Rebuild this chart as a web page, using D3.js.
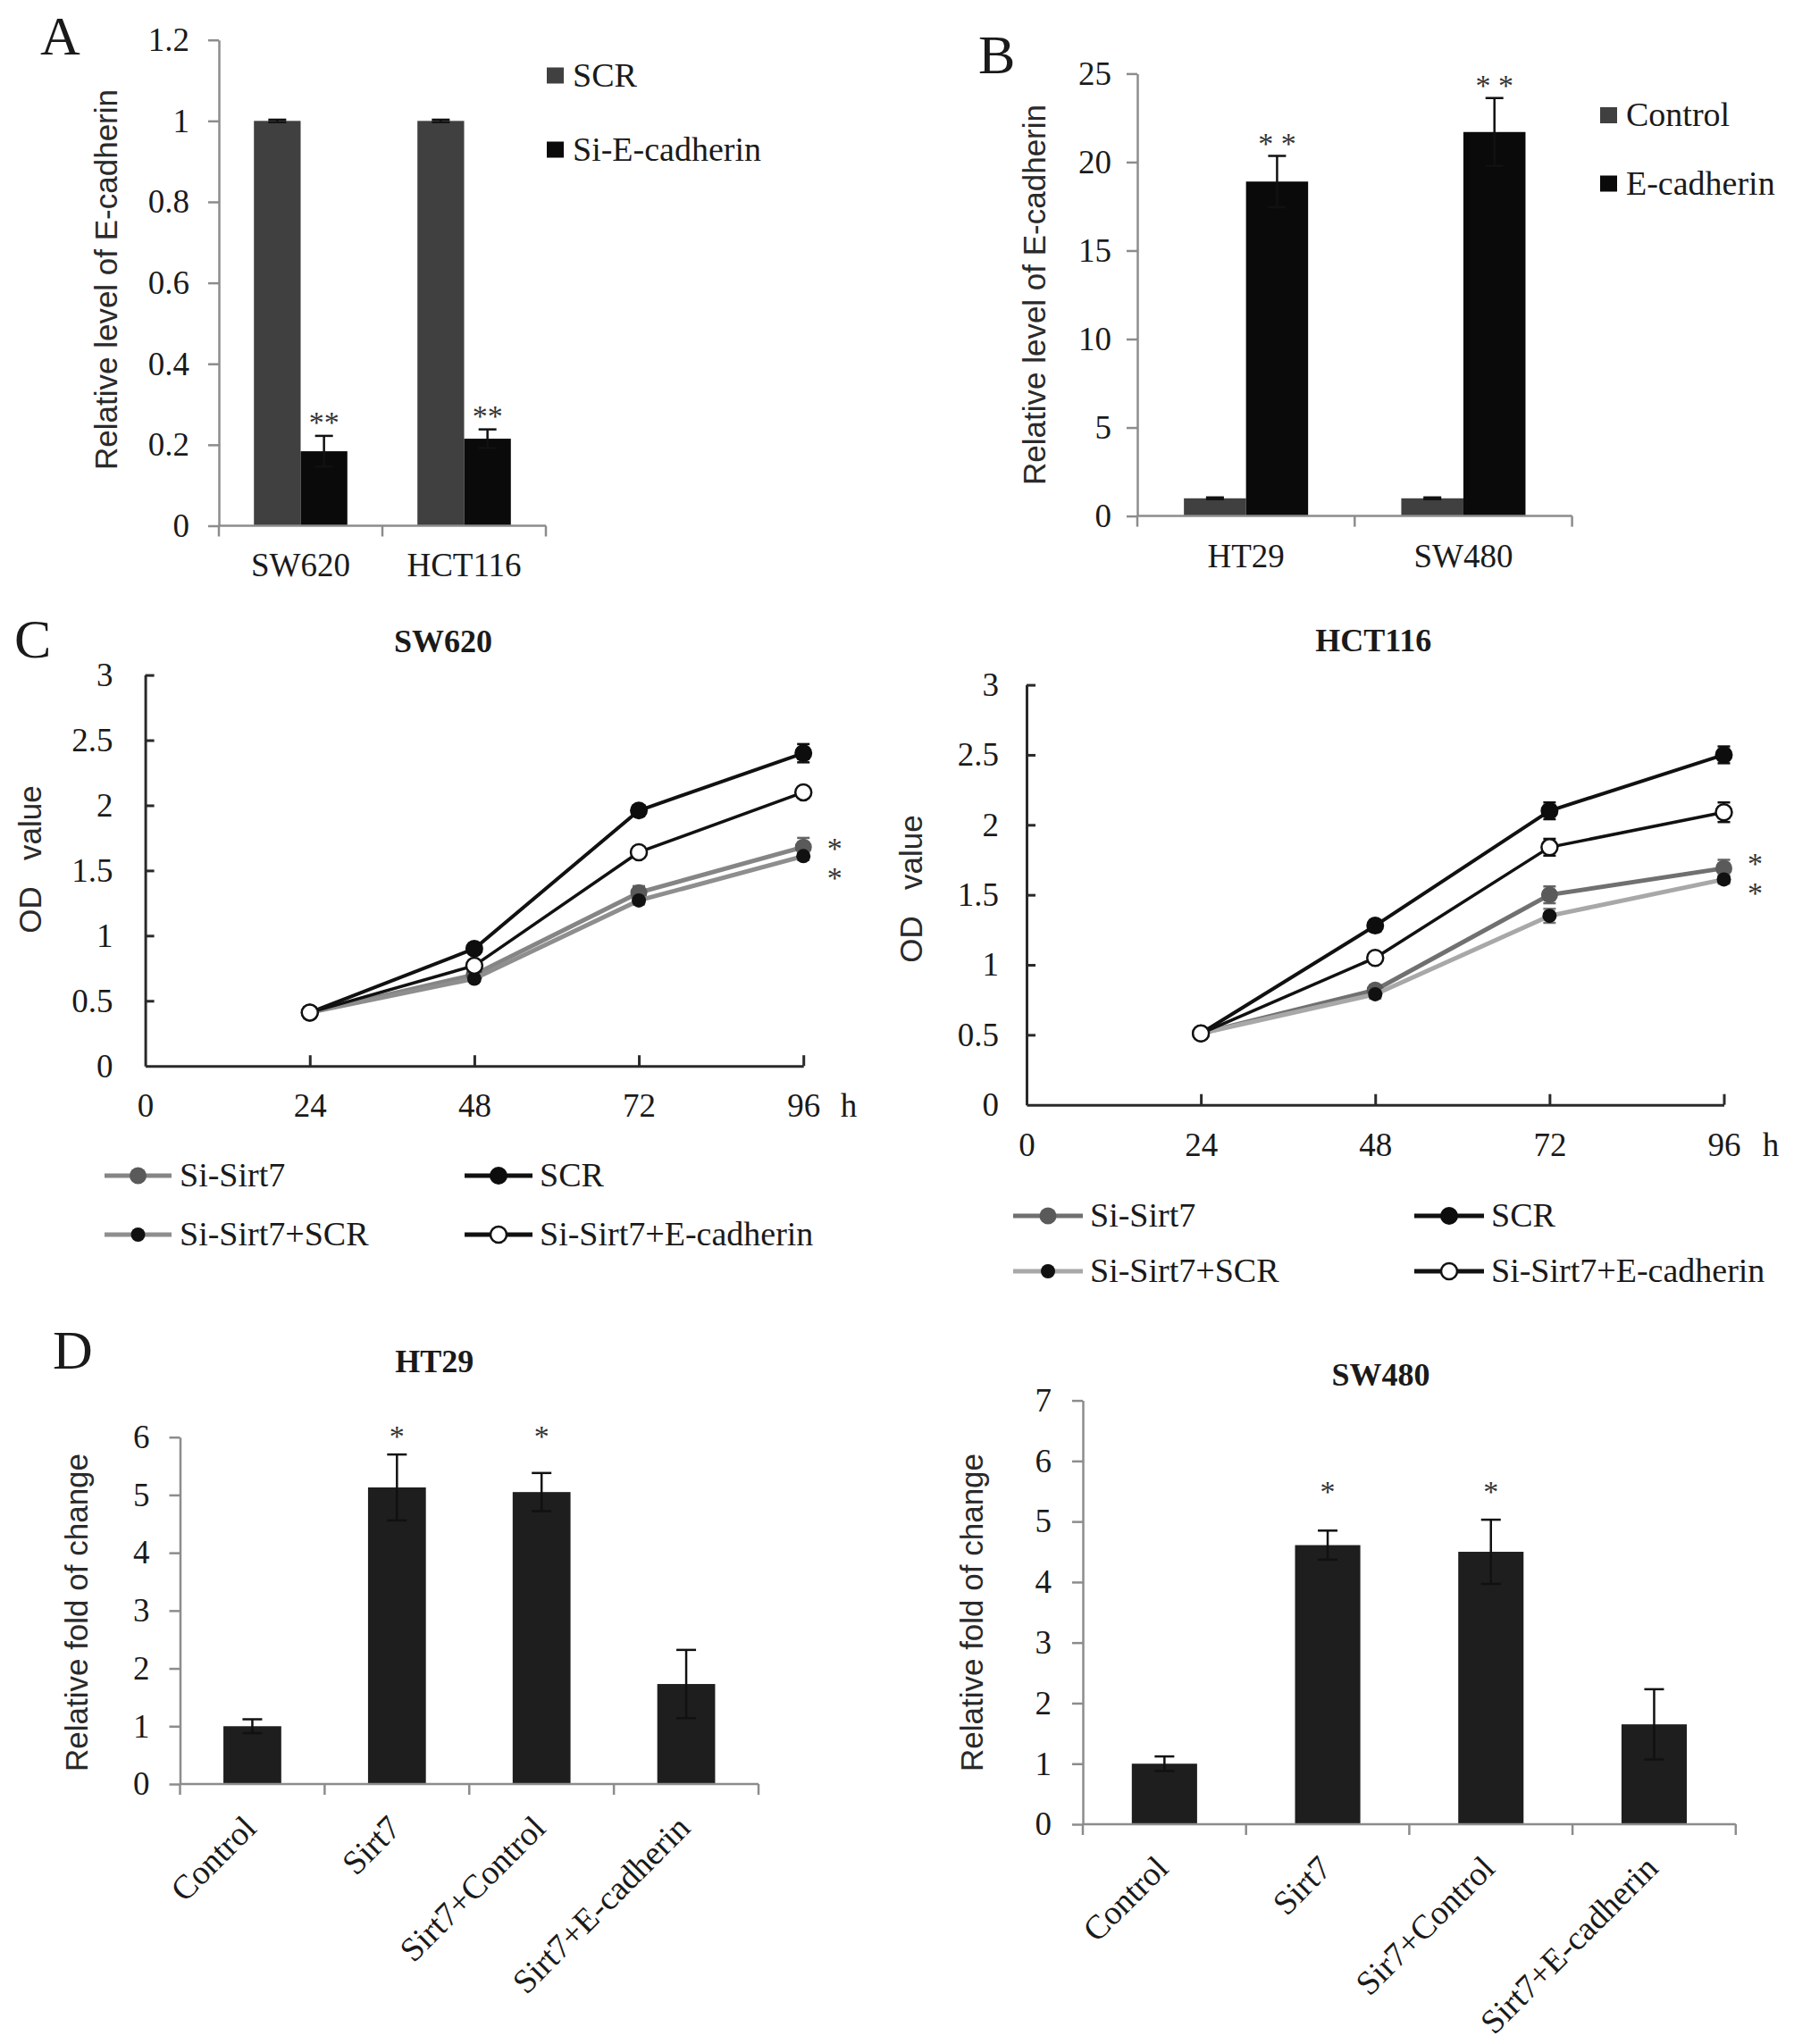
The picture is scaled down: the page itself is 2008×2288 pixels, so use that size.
<!DOCTYPE html>
<html>
<head>
<meta charset="utf-8">
<script src="https://cdn.jsdelivr.net/npm/d3@7"></script>
<style>
  body { margin: 0; background: #fff; }
  svg { display: block; }
</style>
</head>
<body>
<script>
// ---------- data ----------
// A: knock-down of E-cadherin
const aCats = ["SW620", "HCT116"];
const aSeries = ["SCR", "Si-E-cadherin"];
const aSCR = [1, 1];
const aSCRErr = [0.003, 0.003];
const aSiE = [0.184, 0.215];
const aSiEErr = [0.038, 0.023];
const aStars = ["**", "**"];
const aYTicks = [0, 0.2, 0.4, 0.6, 0.8, 1, 1.2];

// B: over-expression of E-cadherin
const bCats = ["HT29", "SW480"];
const bSeries = ["Control", "E-cadherin"];
const bControl = [1, 1];
const bControlErr = [0.05, 0.05];
const bEcad = [18.9, 21.7];
const bEcadErr = [1.45, 1.92];
const bStars = ["* *", "* *"];
const bYTicks = [0, 5, 10, 15, 20, 25];

// C: OD value over time
const hours = [24, 48, 72, 96];
const cXTicks = [0, 24, 48, 72, 96];
const cYTicks = [0, 0.5, 1, 1.5, 2, 2.5, 3];
const cSeries = ["Si-Sirt7", "SCR", "Si-Sirt7+SCR", "Si-Sirt7+E-cadherin"];

const sw620SiSirt7 = [0.41, 0.70, 1.33, 1.68];
const sw620SiSirt7Err = [0.01, 0.03, 0.05, 0.07];
const sw620SCR = [0.41, 0.90, 1.96, 2.40];
const sw620SCRErr = [0.01, 0.03, 0.04, 0.07];
const sw620SiSCR = [0.41, 0.67, 1.27, 1.61];
const sw620SiSCRErr = [0.01, 0.02, 0.03, 0.03];
const sw620SiEcad = [0.41, 0.77, 1.64, 2.10];
const sw620SiEcadErr = [0.01, 0.02, 0.02, 0.03];
const sw620StarLevels = [1.70, 1.475];

const hctSiSirt7 = [0.51, 0.82, 1.50, 1.69];
const hctSiSirt7Err = [0.01, 0.03, 0.06, 0.06];
const hctSCR = [0.51, 1.28, 2.10, 2.50];
const hctSCRErr = [0.01, 0.04, 0.06, 0.06];
const hctSiSCR = [0.51, 0.79, 1.35, 1.61];
const hctSiSCRErr = [0.01, 0.03, 0.05, 0.03];
const hctSiEcad = [0.51, 1.05, 1.84, 2.09];
const hctSiEcadErr = [0.01, 0.03, 0.06, 0.07];
const hctStarLevels = [1.75, 1.54];

// D: relative fold of change
const ht29Cats = ["Control", "Sirt7", "Sirt7+Control", "Sirt7+E-cadherin"];
const ht29Values = [1.0, 5.13, 5.05, 1.73];
const ht29Errors = [0.12, 0.57, 0.33, 0.59];
const ht29Stars = ["", "*", "*", ""];
const ht29YTicks = [0, 1, 2, 3, 4, 5, 6];

const sw480Cats = ["Control", "Sirt7", "Sir7+Control", "Sirt7+E-cadherin"];
const sw480Values = [1.0, 4.61, 4.50, 1.65];
const sw480Errors = [0.12, 0.24, 0.53, 0.58];
const sw480Stars = ["", "*", "*", ""];
const sw480YTicks = [0, 1, 2, 3, 4, 5, 6, 7];

// ---------- drawing ----------
const W = 2008, H = 2288;
const SERIF = '"Liberation Serif", "Times New Roman", serif';
const SANS = '"Liberation Sans", Arial, sans-serif';
const TXT = "#1a1a1a";
const GRAY_AXIS = "#8c8c8c";
const DARK_AXIS = "#2a2a2a";

const svg = d3.select("body").append("svg")
  .attr("width", W).attr("height", H)
  .attr("viewBox", [0, 0, W, H]);

svg.append("rect").attr("width", W).attr("height", H).attr("fill", "#fff");

function styleAxis(g, color, width, fontSize) {
  g.attr("font-family", null).attr("font-size", null);
  g.select(".domain").attr("stroke", color).attr("stroke-width", width);
  g.selectAll(".tick line").attr("stroke", color).attr("stroke-width", width);
  g.selectAll(".tick text")
    .attr("fill", TXT)
    .style("font-family", SERIF)
    .style("font-size", fontSize + "px");
}

function label(x, y, str, size, opts = {}) {
  return svg.append("text")
    .attr("x", x).attr("y", y)
    .attr("text-anchor", opts.anchor || "start")
    .attr("fill", opts.fill || TXT)
    .style("font-family", opts.family || SERIF)
    .style("font-size", size + "px")
    .style("font-weight", opts.weight || "normal")
    .text(str);
}

function yTitle(cx, cy, str) {
  svg.append("text")
    .attr("transform", `translate(${cx},${cy}) rotate(-90)`)
    .attr("text-anchor", "middle")
    .attr("dy", "0.36em")
    .attr("fill", "#2a2a2a")
    .style("font-family", SANS)
    .style("font-size", "35px")
    .style("white-space", "pre")
    .text(str);
}

function errorBars(g, rows, cx, y, color, cap) {
  const eb = g.append("g").attr("stroke", color).attr("stroke-width", 2.5);
  eb.selectAll("line.v").data(rows).join("line").attr("class", "v")
    .attr("x1", cx).attr("x2", cx)
    .attr("y1", d => y(d.v - d.e)).attr("y2", d => y(d.v + d.e));
  eb.selectAll("line.t").data(rows).join("line").attr("class", "t")
    .attr("x1", d => cx(d) - cap / 2).attr("x2", d => cx(d) + cap / 2)
    .attr("y1", d => y(d.v + d.e)).attr("y2", d => y(d.v + d.e));
  eb.selectAll("line.b").data(rows).join("line").attr("class", "b")
    .attr("x1", d => cx(d) - cap / 2).attr("x2", d => cx(d) + cap / 2)
    .attr("y1", d => y(d.v - d.e)).attr("y2", d => y(d.v - d.e));
}

// grouped bar chart (panels A and B)
function groupedBar(o) {
  const g = svg.append("g");
  const y = d3.scaleLinear().domain([0, o.yMax]).range([o.bottom, o.top]);
  const x0 = d3.scaleBand().domain(o.cats).range([o.left, o.right]);
  const x1 = d3.scaleBand().domain(o.series).range([0, x0.bandwidth()]).paddingOuter(0.75);

  o.series.forEach((s, si) => {
    const rows = o.cats.map((c, ci) => ({ c, v: o.values[si][ci], e: o.errors[si][ci], star: o.stars[si] ? o.stars[si][ci] : "" }));
    const cx = d => x0(d.c) + x1(s) + x1.bandwidth() / 2;
    g.append("g").selectAll("rect").data(rows).join("rect")
      .attr("x", d => x0(d.c) + x1(s))
      .attr("y", d => y(d.v))
      .attr("width", x1.bandwidth())
      .attr("height", d => y(0) - y(d.v))
      .attr("fill", o.colors[si]);
    errorBars(g, rows, cx, y, "#111", 20);
    g.append("g").selectAll("text").data(rows.filter(d => d.star)).join("text")
      .attr("x", cx)
      .attr("y", d => y(d.v + d.e) - o.starGap + 16)
      .attr("text-anchor", "middle")
      .attr("fill", "#333")
      .style("font-family", SERIF).style("font-size", "34px")
      .style("white-space", "pre")
      .text(d => d.star);
  });

  const ya = g.append("g").attr("transform", `translate(${o.left},0)`)
    .call(d3.axisLeft(y).tickValues(o.yTicks).tickFormat(d => d)
      .tickSize(12).tickSizeOuter(0).tickPadding(o.tickPad));
  styleAxis(ya, GRAY_AXIS, 2.5, 37);

  const bounds = o.cats.map(c => x0(c)).concat([o.right]);
  g.append("line").attr("x1", o.left).attr("x2", o.right)
    .attr("y1", o.bottom).attr("y2", o.bottom)
    .attr("stroke", GRAY_AXIS).attr("stroke-width", 2.5);
  g.selectAll("line.bt").data(bounds).join("line").attr("class", "bt")
    .attr("x1", d => d).attr("x2", d => d)
    .attr("y1", o.bottom).attr("y2", o.bottom + 12)
    .attr("stroke", GRAY_AXIS).attr("stroke-width", 2.5);

  g.selectAll("text.xl").data(o.cats).join("text").attr("class", "xl")
    .attr("x", c => x0(c) + x0.bandwidth() / 2)
    .attr("y", o.labelY)
    .attr("text-anchor", "middle").attr("fill", TXT)
    .style("font-family", SERIF).style("font-size", "37px")
    .text(c => c);

  // legend
  o.series.forEach((s, si) => {
    const cy = o.legend.ys[si];
    g.append("rect").attr("x", o.legend.x).attr("y", cy - 9)
      .attr("width", 19).attr("height", 18).attr("fill", o.colors[si]);
    label(o.legend.x + 29, cy + 12, s, 38);
  });
}

// line chart (panel C)
function lineChart(o) {
  const g = svg.append("g");
  const x = d3.scaleLinear().domain([0, 96]).range([o.left, o.right]);
  const y = d3.scaleLinear().domain([0, 3]).range([o.bottom, o.top]);

  const xa = g.append("g").attr("transform", `translate(0,${o.bottom})`)
    .call(d3.axisBottom(x).tickValues(cXTicks).tickFormat(d => d)
      .tickSizeInner(-12).tickSizeOuter(0).tickPadding(31));
  styleAxis(xa, DARK_AXIS, 3, 37);
  xa.selectAll(".tick").filter(d => d === 0).select("line").remove();
  const ya = g.append("g").attr("transform", `translate(${o.left},0)`)
    .call(d3.axisLeft(y).tickValues(cYTicks).tickFormat(d => d)
      .tickSizeInner(-10).tickSizeOuter(0).tickPadding(o.tickPad));
  styleAxis(ya, DARK_AXIS, 3, 37);
  ya.selectAll(".tick").filter(d => d === 0).select("line").remove();

  label(o.hX, o.bottom + 31 + 26, "h", 37, { anchor: "middle" });

  const line = d3.line().x(d => x(d.t)).y(d => y(d.v));
  o.series.forEach(s => {
    const rows = hours.map((t, i) => ({ t, v: s.values[i], e: s.errors[i] }));
    g.append("path").datum(rows).attr("d", line)
      .attr("fill", "none").attr("stroke", s.line).attr("stroke-width", s.lw)
      .attr("stroke-linejoin", "round");
    errorBars(g, rows, d => x(d.t), y, s.err, 14);
    g.append("g").selectAll("circle").data(rows).join("circle")
      .attr("cx", d => x(d.t)).attr("cy", d => y(d.v)).attr("r", s.r)
      .attr("fill", s.fill).attr("stroke", s.stroke || "none").attr("stroke-width", 2.5);
  });

  // significance marks, one text with a line per mark
  const st = g.append("text")
    .attr("text-anchor", "middle").attr("fill", "#333")
    .style("font-family", SERIF).style("font-size", "34px");
  st.selectAll("tspan").data(o.starLevels).join("tspan")
    .attr("x", o.right + 35)
    .attr("y", v => y(v) + 16)
    .text("*");

  label((o.left + o.right) / 2 + o.titleDx, o.titleY, o.title, 36, { anchor: "middle", weight: "bold" });

  // legend
  o.series.forEach((s, i) => {
    const cy = o.legend.rows[Math.floor(i / 2)];
    const col = o.legend.cols[i % 2];
    g.append("line").attr("x1", col.x1).attr("x2", col.x2).attr("y1", cy).attr("y2", cy)
      .attr("stroke", s.line).attr("stroke-width", 5);
    g.append("circle").attr("cx", (col.x1 + col.x2) / 2).attr("cy", cy).attr("r", s.r)
      .attr("fill", s.fill).attr("stroke", s.stroke || "none").attr("stroke-width", 2.5);
    label(col.tx, cy + 12, cSeries[i], 38);
  });
}

// single-series bar chart (panel D)
function singleBar(o) {
  const g = svg.append("g");
  const y = d3.scaleLinear().domain([0, o.yMax]).range([o.bottom, o.top]);
  const x = d3.scaleBand().domain(o.cats).range([o.left, o.right]).paddingInner(0.6).paddingOuter(0.3);
  const xb = d3.scaleBand().domain(o.cats).range([o.left, o.right]);
  const rows = o.cats.map((c, i) => ({ c, v: o.values[i], e: o.errors[i], star: o.stars[i] }));
  const cx = d => x(d.c) + x.bandwidth() / 2;

  g.append("g").selectAll("rect").data(rows).join("rect")
    .attr("x", d => x(d.c)).attr("y", d => y(d.v))
    .attr("width", x.bandwidth()).attr("height", d => y(0) - y(d.v))
    .attr("fill", "#1e1e1e");
  errorBars(g, rows, cx, y, "#111", 22);

  g.append("g").selectAll("text").data(rows.filter(d => d.star)).join("text")
    .attr("x", cx).attr("y", y(o.starLevel) + 16)
    .attr("text-anchor", "middle").attr("fill", "#333")
    .style("font-family", SERIF).style("font-size", "34px")
    .text(d => d.star);

  const ya = g.append("g").attr("transform", `translate(${o.left},0)`)
    .call(d3.axisLeft(y).tickValues(o.yTicks).tickFormat(d => d)
      .tickSize(12).tickSizeOuter(0).tickPadding(o.tickPad));
  styleAxis(ya, GRAY_AXIS, 2.5, 37);

  const bounds = o.cats.map(c => xb(c)).concat([o.right]);
  g.append("line").attr("x1", o.left).attr("x2", o.right)
    .attr("y1", o.bottom).attr("y2", o.bottom)
    .attr("stroke", GRAY_AXIS).attr("stroke-width", 2.5);
  g.selectAll("line.bt").data(bounds).join("line").attr("class", "bt")
    .attr("x1", d => d).attr("x2", d => d)
    .attr("y1", o.bottom).attr("y2", o.bottom + 12)
    .attr("stroke", GRAY_AXIS).attr("stroke-width", 2.5);

  g.selectAll("text.xl").data(rows).join("text").attr("class", "xl")
    .attr("transform", d => `translate(${cx(d) - 3},${o.bottom + 42}) rotate(-45)`)
    .attr("dy", "0.35em")
    .attr("text-anchor", "end").attr("fill", TXT)
    .style("font-family", SERIF).style("font-size", "38px")
    .text(d => d.c);

  label((o.left + o.right) / 2 + o.titleDx, o.titleY, o.title, 36, { anchor: "middle", weight: "bold" });
}

// ---------- panels ----------
// panel letters
label(45, 61, "A", 62);
label(1095, 82, "B", 62);
label(16, 736, "C", 62);
label(59, 1532, "D", 62);

groupedBar({
  left: 245, right: 611, top: 44.7, bottom: 588.5, yMax: 1.2, yTicks: aYTicks,
  cats: aCats, series: aSeries, values: [aSCR, aSiE], errors: [aSCRErr, aSiEErr],
  stars: [null, aStars], colors: ["#404040", "#0a0a0a"],
  tickPad: 21, starGap: 20, labelY: 645,
  legend: { x: 612, ys: [84.5, 167.5] }
});
yTitle(118, 313, "Relative level of E-cadherin");

groupedBar({
  left: 1273, right: 1759.6, top: 82.4, bottom: 577.6, yMax: 25, yTicks: bYTicks,
  cats: bCats, series: bSeries, values: [bControl, bEcad], errors: [bControlErr, bEcadErr],
  stars: [null, bStars], colors: ["#404040", "#0a0a0a"],
  tickPad: 17, starGap: 19, labelY: 635,
  legend: { x: 1791, ys: [129, 205.5] }
});
yTitle(1157.5, 330, "Relative level of E-cadherin");

function cStyles(siLine, siScrLine, v) {
  return [
    { values: v[0], errors: v[1], line: siLine, lw: 5, fill: "#5a5a5a", r: 9.5, err: "#666" },
    { values: v[2], errors: v[3], line: "#111", lw: 4, fill: "#0d0d0d", r: 10, err: "#111" },
    { values: v[4], errors: v[5], line: siScrLine, lw: 5, fill: "#111", r: 8, err: "#777" },
    { values: v[6], errors: v[7], line: "#111", lw: 3.5, fill: "#fff", stroke: "#111", r: 9, err: "#111" }
  ];
}

lineChart({
  left: 162.6, right: 899.2, top: 755.6, bottom: 1193.2, tickPad: 36, hX: 950,
  title: "SW620", titleY: 730, titleDx: -35,
  series: cStyles("#858585", "#8e8e8e",
    [sw620SiSirt7, sw620SiSirt7Err, sw620SCR, sw620SCRErr, sw620SiSCR, sw620SiSCRErr, sw620SiEcad, sw620SiEcadErr]),
  starLevels: sw620StarLevels,
  legend: { rows: [1316, 1382], cols: [{ x1: 117, x2: 192, tx: 201 }, { x1: 520, x2: 596, tx: 604 }] }
});
yTitle(33, 962, "OD   value");

lineChart({
  left: 1149, right: 1929.5, top: 766.6, bottom: 1236.7, tickPad: 31, hX: 1982,
  title: "HCT116", titleY: 729, titleDx: -2,
  series: cStyles("#707070", "#a8a8a8",
    [hctSiSirt7, hctSiSirt7Err, hctSCR, hctSCRErr, hctSiSCR, hctSiSCRErr, hctSiEcad, hctSiEcadErr]),
  starLevels: hctStarLevels,
  legend: { rows: [1361, 1423], cols: [{ x1: 1134, x2: 1212, tx: 1220 }, { x1: 1583, x2: 1661, tx: 1669 }] }
});
yTitle(1019, 995, "OD   value");

singleBar({
  left: 201.5, right: 849, top: 1608.7, bottom: 1997, yMax: 6, yTicks: ht29YTicks,
  cats: ht29Cats, values: ht29Values, errors: ht29Errors, stars: ht29Stars, starLevel: 6.09,
  tickPad: 22, title: "HT29", titleY: 1536, titleDx: -39
});
yTitle(85, 1805, "Relative fold of change");

singleBar({
  left: 1212, right: 1942.8, top: 1567.6, bottom: 2042, yMax: 7, yTicks: sw480YTicks,
  cats: sw480Cats, values: sw480Values, errors: sw480Errors, stars: sw480Stars, starLevel: 5.57,
  tickPad: 23, title: "SW480", titleY: 1551, titleDx: -32
});
yTitle(1087, 1805, "Relative fold of change");
</script>
</body>
</html>
